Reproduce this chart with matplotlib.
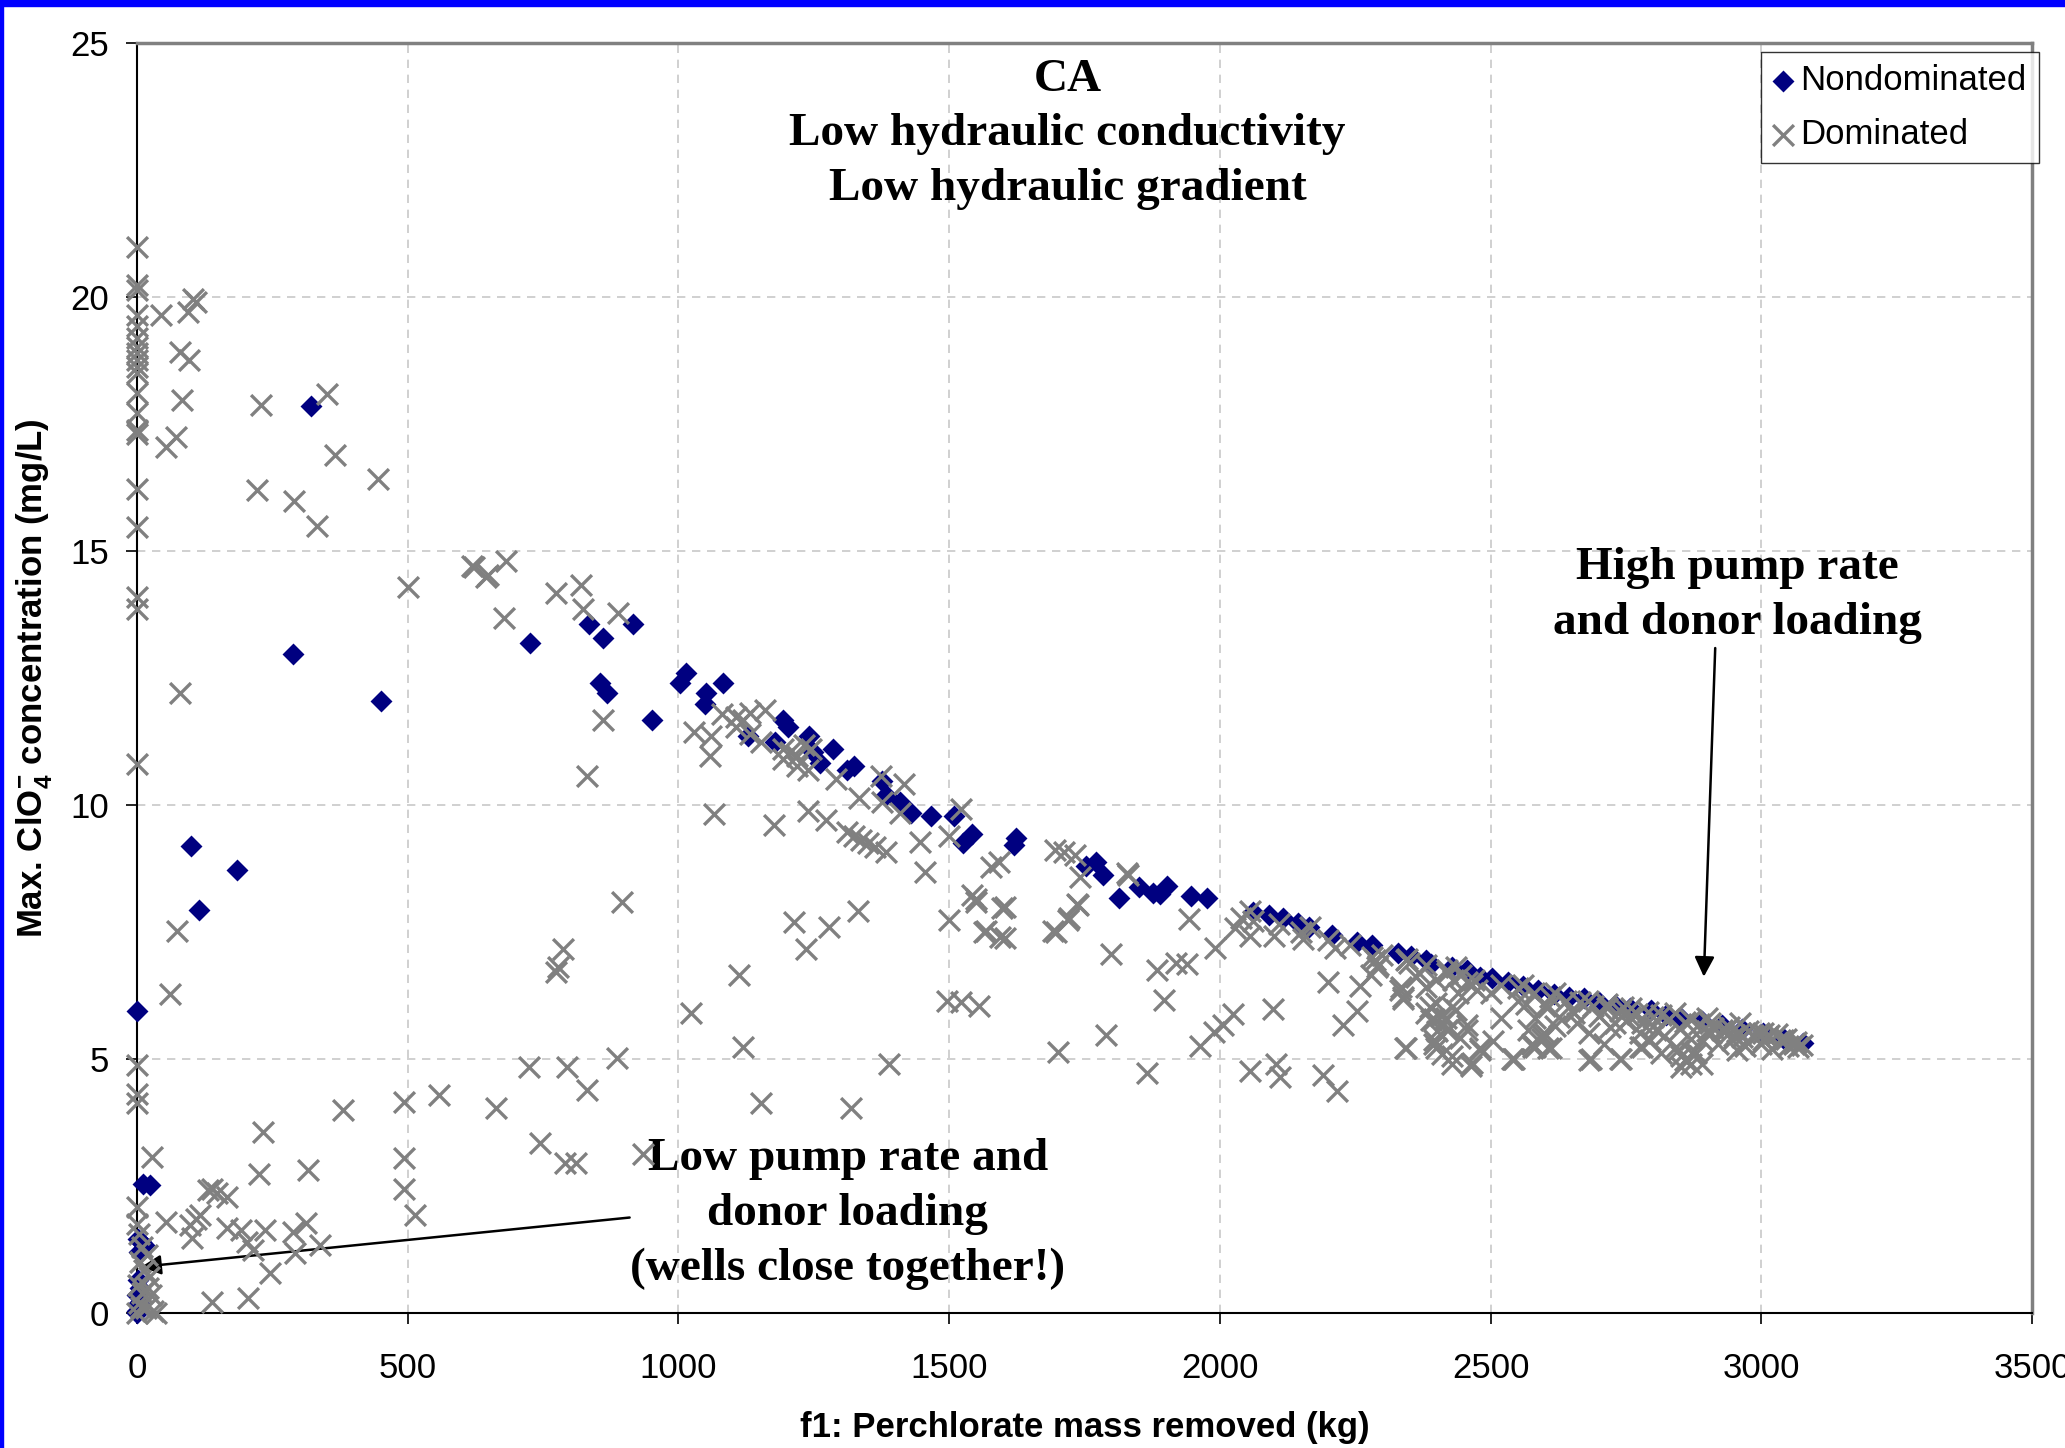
import matplotlib
matplotlib.use("Agg")
import matplotlib.pyplot as plt
from matplotlib.patches import Rectangle

plt.rcParams['font.family'] = ['Liberation Sans', 'DejaVu Sans']
plt.rcParams['mathtext.fontset'] = 'custom'
plt.rcParams['mathtext.rm'] = 'Liberation Sans'
plt.rcParams['mathtext.bf'] = 'Liberation Sans:bold'

# Nondominated solutions (f1 kg, max ClO4- mg/L)
nd_x = [0, 321, 289, 450, 100, 114, 185, 12, 24, 2, 8, 14, 4, 2, 6, 0, 3, 0, 1,
        726, 835, 860, 917, 855, 868, 951, 1003, 1014, 1049, 1051, 1082,
        1128, 1179, 1193, 1203, 1242, 1249, 1262, 1285, 1311, 1324,
        1377, 1384, 1410, 1430, 1466, 1509, 1525, 1542, 1620, 1623,
        1752, 1771, 1785, 1814, 1851, 1877, 1890, 1903, 1946, 1976,
        2061, 2090, 2117, 2145, 2164, 2207, 2254, 2282,
        2329, 2353, 2381, 2390, 2428, 2457, 2480, 2503, 2532, 2560, 2588,
        2617, 2645, 2673, 2701, 2730, 2758, 2796, 2824, 2852, 2890, 2927,
        2965, 3003, 3040, 3078]
nd_y = [5.95, 17.85, 12.98, 12.05, 9.2, 7.93, 8.72, 2.55, 2.53, 1.45, 1.40, 1.33, 1.2, 0.65, 0.5, 0.35, 0.2, 0.05, 0.0,
        13.19, 13.57, 13.29, 13.57, 12.41, 12.20, 11.67, 12.41, 12.59, 11.99, 12.20, 12.40,
        11.36, 11.25, 11.67, 11.53, 11.36, 11.04, 10.83, 11.11, 10.69, 10.76,
        10.48, 10.20, 10.06, 9.84, 9.78, 9.78, 9.25, 9.42, 9.22, 9.36,
        8.80, 8.87, 8.62, 8.17, 8.38, 8.27, 8.24, 8.41, 8.20, 8.17,
        7.90, 7.83, 7.77, 7.67, 7.60, 7.44, 7.31, 7.24,
        7.08, 7.02, 6.95, 6.88, 6.82, 6.75, 6.62, 6.59, 6.52, 6.43, 6.36,
        6.29, 6.23, 6.20, 6.13, 6.06, 6.00, 5.97, 5.87, 5.80, 5.74, 5.67,
        5.60, 5.51, 5.41, 5.31]

# Dominated solutions
dom_x = [0, 0, 0, 0, 0, 0, 0, 0, 0, 0, 0, 0, 0, 0, 0, 0, 0, 0, 0, 0, 0, 0, 0, 0,
         0, 4, 10, 18, 6, 14, 22, 2, 10, 26, 4, 16, 30, 0, 8, 20, 35, 27, 54,
         44, 95, 104, 110, 79, 96, 84, 229, 352, 73, 54, 366, 446, 222, 291, 333,
         500, 623, 649, 80, 61, 74,
         619, 645, 681, 774, 820, 678, 823, 889, 860, 831, 896, 787, 777, 774,
         724, 794, 886, 1024, 1112, 1120, 1065, 1176, 1028, 1061, 1059,
         1080, 1107, 1120, 1133, 1160, 1107, 1133, 1153,
         1193, 1206, 1219, 1232, 1245, 1193, 1219, 1239,
         1291, 1239, 1272, 1334, 1374, 1417, 1377, 1410,
         1311, 1324, 1338, 1351, 1364, 1384,
         1446, 1456, 1499, 1522, 1542, 1549, 1499, 1568, 1578,
         1214, 1278, 1235, 1332, 1496, 1522, 1555, 1389,
         1549, 1598, 1565, 1594, 1697, 1722, 1738, 1701, 1153, 1318, 832,
         745, 791, 811, 935, 663, 558, 494, 494, 494, 514,
         232, 381, 226, 316, 132, 138, 147, 166, 98, 110, 116, 101, 166, 193,
         203, 215, 236, 246, 289, 313, 292, 338, 138, 205,
         1593, 1603, 1603, 1696, 1712, 1732, 1742, 1828, 1831, 1737, 1719, 1692,
         1799, 1790, 1865, 1897, 1884, 1920, 1940, 1943, 1992, 1963, 1989, 2006,
         2025, 2098, 2055, 2104, 2111, 2190, 2217, 2039, 2055, 2062, 2055, 2029,
         2101, 2154, 2167, 2213, 2200, 2227, 2253, 2282, 2292, 2279, 2259, 2342,
         2335, 2339, 2345, 2368, 2388, 2395, 2401, 2418, 2424, 2444, 2457, 2395,
         2408, 2428, 2464, 2411, 2481, 2504, 2540, 2576, 2596, 2565, 2583,
         2430, 2445, 2465, 2475, 2440,
         2287, 2291, 2343, 2333, 2338, 2362, 2381, 2400, 2419, 2437, 2456,
         2381, 2390, 2400, 2419, 2437, 2456, 2428, 2343, 2395, 2400, 2428, 2466,
         2480, 2541, 2579, 2607, 2569, 2598, 2626, 2607, 2654, 2682, 2739,
         2682, 2720, 2758, 2777, 2805, 2795, 2777, 2814, 2852, 2871, 2880, 2843,
         2890, 2908, 2946, 2927, 2965, 3003, 3003, 3040, 3068, 2852, 2890, 2955,
         2543, 2583, 2612, 2596, 2685, 2741, 2780, 2859, 2873, 2846,
         2520, 2550, 2580, 2610, 2640, 2665, 2690, 2715, 2740, 2770, 2800, 2830,
         2860, 2885, 2910, 2935, 2960, 2985, 3010, 3035, 3060, 3075, 2700, 2750,
         2800, 2850, 2900, 2950, 3000, 3050, 2650, 2600, 2550, 2500, 2470, 2520,
         2620, 2660, 2710, 2730, 2780, 2820, 2870, 2920, 2970, 3020, 2960, 3030,
         2900, 2840, 2760, 2680, 2620, 2560, 2240, 2300, 2350, 2380, 2420, 2200,
         2150, 2110,
         2870, 2905, 2940, 2975, 2995, 3015, 3045, 3065, 2790, 2815, 2745, 2715]
dom_y = [20.99, 20.24, 20.14, 19.65, 19.42, 19.19, 19.02, 18.89, 18.76, 18.63, 18.50, 18.11,
         17.71, 17.38, 17.31, 16.23, 15.48, 14.10, 13.85, 10.80, 4.88, 4.32, 4.13, 2.09,
         1.75, 1.55, 1.30, 1.15, 1.00, 0.85, 0.70, 0.55, 0.40, 0.35, 0.20, 0.10, 0.05, 0.0, 0.12, 0.50, 0.0, 3.08, 1.80,
         19.65, 19.71, 19.97, 19.90, 18.92, 18.76, 17.97, 17.87, 18.10, 17.25, 17.05, 16.89, 16.41, 16.20, 15.98, 15.49,
         14.30, 14.69, 14.52, 12.21, 6.29, 7.52,
         14.70, 14.49, 14.80, 14.17, 14.34, 13.68, 13.85, 13.78, 11.67, 10.58, 8.09, 7.17, 6.82, 6.72,
         4.85, 4.85, 5.03, 5.91, 6.65, 5.24, 9.82, 9.60, 11.43, 11.36, 10.97,
         11.80, 11.74, 11.67, 11.81, 11.88, 11.53, 11.39, 11.25,
         11.11, 11.04, 10.97, 11.18, 11.11, 10.90, 10.76, 10.69,
         10.51, 9.88, 9.70, 10.13, 10.58, 10.41, 10.06, 9.84,
         9.46, 9.39, 9.32, 9.25, 9.18, 9.07,
         9.28, 8.69, 9.39, 9.92, 8.23, 8.16, 7.74, 7.53, 8.78,
         7.70, 7.60, 7.17, 7.91, 6.15, 6.12, 6.05, 4.90,
         8.10, 7.97, 7.51, 7.41, 7.51, 7.77, 8.03, 5.14, 4.13, 4.03, 4.39,
         3.34, 2.95, 2.95, 3.14, 4.03, 4.29, 4.16, 3.05, 2.45, 1.93,
         3.57, 4.00, 2.74, 2.81, 2.42, 2.45, 2.36, 2.29, 1.73, 1.86, 1.93, 1.47, 1.67, 1.63,
         1.40, 1.24, 1.63, 0.78, 1.60, 1.77, 1.18, 1.34, 0.22, 0.29,
         8.87, 7.99, 7.39, 9.11, 9.08, 9.01, 8.59, 8.66, 8.62, 8.06, 7.74, 7.53,
         7.06, 5.47, 4.72, 6.16, 6.76, 6.90, 6.87, 7.75, 7.18, 5.25, 5.53, 5.67,
         5.88, 5.98, 4.76, 4.90, 4.65, 4.69, 4.37, 7.78, 7.92, 7.71, 7.43, 7.57,
         7.43, 7.36, 7.60, 7.18, 6.51, 5.67, 5.95, 7.01, 6.86, 6.65, 6.44, 5.21,
         6.41, 6.23, 6.97, 6.69, 6.02, 5.78, 5.56, 5.81, 5.60, 5.42, 5.67, 5.29,
         5.84, 4.90, 4.86, 5.10, 5.18, 5.35, 5.00, 5.29, 5.39, 6.09, 5.81,
         6.55, 6.65, 6.45, 6.35, 6.30,
         6.95, 6.82, 6.95, 6.36, 6.19, 6.62, 6.42, 6.56, 6.69, 6.82, 6.52,
         5.90, 5.77, 6.10, 5.57, 5.96, 5.57, 6.03, 5.21, 5.38, 5.21, 5.05, 4.92,
         5.21, 5.01, 5.24, 5.21, 5.57, 5.51, 5.83, 6.03, 5.90, 4.98, 5.01,
         5.51, 5.64, 5.83, 5.51, 5.57, 5.37, 5.24, 5.11, 5.05, 4.91, 5.11, 5.24,
         5.37, 5.51, 5.37, 5.57, 5.44, 5.37, 5.51, 5.37, 5.24, 4.84, 4.91, 5.18,
         5.01, 5.24, 5.21, 5.47, 5.01, 5.01, 5.24, 4.98, 5.11, 5.18,
         6.45, 6.40, 6.30, 6.22, 6.15, 6.12, 6.05, 6.00, 5.95, 5.88, 5.82, 5.78,
         5.72, 5.68, 5.62, 5.58, 5.52, 5.48, 5.43, 5.38, 5.30, 5.27, 5.85, 5.75,
         5.65, 5.60, 5.55, 5.45, 5.30, 5.25, 5.95, 6.05, 6.15, 6.30, 6.55, 5.80,
         5.65, 5.70, 5.30, 5.70, 5.70, 5.45, 5.40, 5.30, 5.25, 5.20, 5.70, 5.50,
         5.80, 5.90, 6.00, 6.15, 6.30, 6.45, 7.25, 7.05, 6.90, 6.85, 6.75, 7.35,
         7.50, 7.65,
         5.76, 5.70, 5.63, 5.56, 5.52, 5.47, 5.40, 5.33, 5.92, 5.86, 6.03, 6.08]

x_ticks = [0, 500, 1000, 1500, 2000, 2500, 3000, 3500]
y_ticks = [0, 5, 10, 15, 20, 25]

fig = plt.figure(figsize=(20.65, 14.48), dpi=100)
ax = fig.add_axes([0.0663, 0.0932, 0.9177, 0.8771])

ax.scatter(nd_x, nd_y, marker='D', s=125, color='#000080', linewidths=0,
           label='Nondominated', clip_on=False, zorder=3)
ax.scatter(dom_x, dom_y, marker='x', s=225, color='#808080', linewidths=2.4,
           label='Dominated', clip_on=False, zorder=4)

ax.set_xlim(0, 3500)
ax.set_ylim(0, 25)
ax.set_xticks(x_ticks)
ax.set_yticks(y_ticks)
ax.grid(True, color='#c8c8c8', linestyle=(0, (5, 4)), linewidth=1.2)
ax.set_axisbelow(True)
ax.tick_params(direction='out', length=8, width=1.2, labelsize=25)
ax.tick_params(axis='x', pad=20)
ax.tick_params(axis='y', pad=12)

for side in ['left', 'bottom']:
    ax.spines[side].set_color('black')
    ax.spines[side].set_linewidth(1.5)
for side in ['top', 'right']:
    ax.spines[side].set_color('#808080')
    ax.spines[side].set_linewidth(2.5)

ax.set_xlabel('f1: Perchlorate mass removed (kg)', fontsize=25, fontweight='bold')
ax.set_ylabel(r'Max. ClO$_\mathbf{4}^\mathbf{-}$ concentration (mg/L)', fontsize=25, fontweight='bold')
ax.xaxis.set_label_coords(0.5, -0.077)
ax.yaxis.set_label_coords(-0.044, 0.5)

serif = dict(family='Liberation Serif', fontweight='bold', fontsize=34,
             ha='center', va='center', multialignment='center', linespacing=1.4)
ax.text(1719, 23.2, 'CA\nLow hydraulic conductivity\nLow hydraulic gradient', **serif)
ax.text(2956, 14.13, 'High pump rate\nand donor loading', **serif)
ax.text(1313, 1.95, 'Low pump rate and\ndonor loading\n(wells close together!)', **serif)

arrow = dict(arrowstyle='-|>', color='black', lw=1.8, mutation_scale=30, shrinkA=0, shrinkB=0)
ax.annotate('', xy=(2894, 6.62), xytext=(2915, 13.09), arrowprops=arrow)
ax.annotate('', xy=(8, 0.91), xytext=(910, 1.88), arrowprops=arrow)

leg = ax.legend(loc='upper right', bbox_to_anchor=(0.9874, 0.9641), bbox_transform=fig.transFigure,
                fontsize=25, frameon=True, fancybox=False, borderaxespad=0,
                handlelength=0.6, handletextpad=0.2, borderpad=0.35, labelspacing=0.6)
leg.get_frame().set_edgecolor('black')
leg.get_frame().set_linewidth(1.0)

# blue slide frame at the top and left edges
fig.patches.append(Rectangle((0, 1 - 6 / 1448), 1, 6 / 1448, transform=fig.transFigure,
                             color='#0000ff', zorder=10))
fig.patches.append(Rectangle((0, 0), 3 / 2065, 1, transform=fig.transFigure,
                             color='#0000ff', zorder=10))

fig.savefig('out.png', dpi=100)
